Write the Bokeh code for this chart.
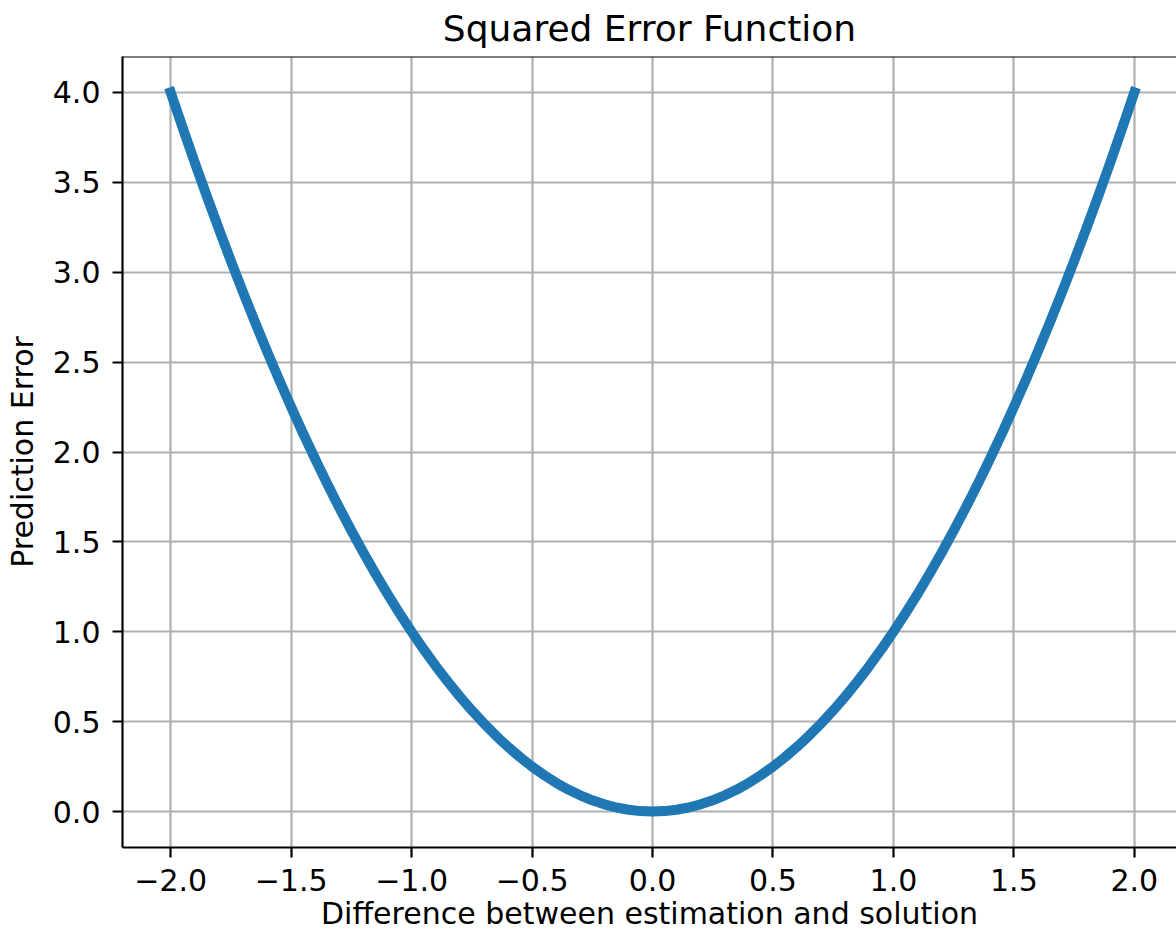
from bokeh.plotting import figure
from bokeh.models import FixedTicker, Span, Range1d
from bokeh.embed import file_html
from bokeh.resources import INLINE

# Data
x_vals = [-2.00, -1.95, -1.90, -1.85, -1.80, -1.75, -1.70, -1.65, -1.60, -1.55,
          -1.50, -1.45, -1.40, -1.35, -1.30, -1.25, -1.20, -1.15, -1.10, -1.05,
          -1.00, -0.95, -0.90, -0.85, -0.80, -0.75, -0.70, -0.65, -0.60, -0.55,
          -0.50, -0.45, -0.40, -0.35, -0.30, -0.25, -0.20, -0.15, -0.10, -0.05,
          0.00,
          0.05, 0.10, 0.15, 0.20, 0.25, 0.30, 0.35, 0.40, 0.45, 0.50,
          0.55, 0.60, 0.65, 0.70, 0.75, 0.80, 0.85, 0.90, 0.95, 1.00,
          1.05, 1.10, 1.15, 1.20, 1.25, 1.30, 1.35, 1.40, 1.45, 1.50,
          1.55, 1.60, 1.65, 1.70, 1.75, 1.80, 1.85, 1.90, 1.95, 2.00]
y_vals = [4.0000, 3.8025, 3.6100, 3.4225, 3.2400, 3.0625, 2.8900, 2.7225, 2.5600, 2.4025,
          2.2500, 2.1025, 1.9600, 1.8225, 1.6900, 1.5625, 1.4400, 1.3225, 1.2100, 1.1025,
          1.0000, 0.9025, 0.8100, 0.7225, 0.6400, 0.5625, 0.4900, 0.4225, 0.3600, 0.3025,
          0.2500, 0.2025, 0.1600, 0.1225, 0.0900, 0.0625, 0.0400, 0.0225, 0.0100, 0.0025,
          0.0000,
          0.0025, 0.0100, 0.0225, 0.0400, 0.0625, 0.0900, 0.1225, 0.1600, 0.2025, 0.2500,
          0.3025, 0.3600, 0.4225, 0.4900, 0.5625, 0.6400, 0.7225, 0.8100, 0.9025, 1.0000,
          1.1025, 1.2100, 1.3225, 1.4400, 1.5625, 1.6900, 1.8225, 1.9600, 2.1025, 2.2500,
          2.4025, 2.5600, 2.7225, 2.8900, 3.0625, 3.2400, 3.4225, 3.6100, 3.8025, 4.0000]

x_ticks = [-2.0, -1.5, -1.0, -0.5, 0.0, 0.5, 1.0, 1.5, 2.0]
x_tick_labels = ["\u22122.0", "\u22121.5", "\u22121.0", "\u22120.5", "0.0", "0.5", "1.0", "1.5", "2.0"]
y_ticks = [0.0, 0.5, 1.0, 1.5, 2.0, 2.5, 3.0, 3.5, 4.0]
y_tick_labels = ["0.0", "0.5", "1.0", "1.5", "2.0", "2.5", "3.0", "3.5", "4.0"]

title_text = "Squared Error Function"
x_label = "Difference between estimation and solution"
y_label = "Prediction Error"

FONT = "DejaVu Sans"

p = figure(width=1176, height=934, output_backend="svg", toolbar_location=None,
           x_range=Range1d(-2.2, 2.175), y_range=Range1d(-0.2, 4.2),
           min_border_left=122, min_border_right=0, min_border_top=56,
           min_border_bottom=87, title=title_text)

p.background_fill_color = "white"
p.border_fill_color = "white"
p.outline_line_color = None

p.title.align = "center"
p.title.vertical_align = "top"
p.title.text_font = FONT
p.title.text_font_size = "36px"
p.title.text_font_style = "normal"
p.title.text_color = "black"
p.title.standoff = 12

p.line(x_vals, y_vals, line_color="#1f77b4", line_width=10,
       line_cap="square", line_join="round")

for ax, ticks, labels in ((p.xaxis[0], x_ticks, x_tick_labels), (p.yaxis[0], y_ticks, y_tick_labels)):
    ax.ticker = FixedTicker(ticks=ticks)
    ax.major_label_overrides = dict(zip(ticks, labels))
    ax.minor_tick_line_color = None
    ax.major_tick_in = 0
    ax.major_tick_out = 10
    ax.major_tick_line_width = 2.2
    ax.major_tick_line_color = "black"
    ax.axis_line_width = 2.2
    ax.axis_line_color = "black"
    ax.major_label_text_font = FONT
    ax.major_label_text_font_size = "30px"
    ax.major_label_text_color = "black"
    ax.axis_label_text_font = FONT
    ax.axis_label_text_font_size = "30px"
    ax.axis_label_text_font_style = "normal"
    ax.axis_label_text_color = "black"

p.xaxis.major_label_standoff = 11
p.xaxis.axis_label_standoff = 2
p.yaxis.major_label_standoff = 12
p.yaxis.axis_label_standoff = 10

p.xaxis.axis_label = x_label
p.yaxis.axis_label = y_label

p.grid.grid_line_color = "#b0b0b0"
p.grid.grid_line_width = 2.2
p.xgrid.ticker = FixedTicker(ticks=x_ticks)
p.ygrid.ticker = FixedTicker(ticks=y_ticks)

p.add_layout(Span(location=4.2, dimension="width", line_color="black", line_width=2.2))

open("out.html", "w").write(file_html(p, INLINE))
